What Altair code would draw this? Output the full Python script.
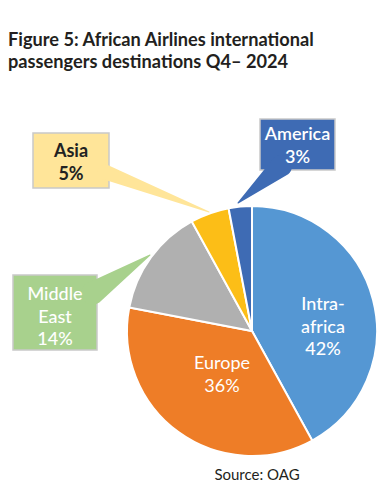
import altair as alt
import pandas as pd

# ---- data ----
categories = ["Intra-africa", "Europe", "Middle East", "Asia", "America"]
shares = [42, 36, 14, 5, 3]
display_names = ["Intra-\nafrica", "Europe", "Middle\nEast", "Asia", "America"]
slice_colors = ["#5597D3", "#EE7D27", "#B0B0B0", "#FCBE17", "#3E6BB4"]

title_lines = ["Figure 5: African Airlines international", "passengers destinations Q4\u2013 2024"]
source_text = "Source: OAG"

# ---- layout (screen pixel coordinates) ----
W, H = 376, 477
OFF = 8
CX, CY, R = 252, 331, 125
xs = alt.Scale(domain=[OFF, OFF + W], range=[0, W], nice=False, zero=False)
ys = alt.Scale(domain=[OFF, OFF + H], range=[0, H], nice=False, zero=False)

pie_df = pd.DataFrame({"category": categories, "share": shares, "ord": list(range(len(categories)))})

pie = alt.Chart(pie_df).mark_arc(radius=R, stroke="white", strokeWidth=2).encode(
    theta=alt.Theta("share:Q", stack=True),
    order=alt.Order("ord:Q"),
    color=alt.Color("category:N", scale=alt.Scale(domain=categories, range=slice_colors), legend=None),
    x=alt.value(CX - OFF),
    y=alt.value(CY - OFF),
)

layers = [pie]

# callouts: box (x1,x2,y1,y2), pointer base (bx,by,width), tip (tx,ty), fill
callouts = {
    "America": dict(box=(260, 335, 119, 170), base=(281, 166, 22), tip=(238, 203), fill="#3E6BB4"),
    "Asia": dict(box=(33, 109, 133, 188), base=(105, 172, 15), tip=(209, 212), fill="#FFE599"),
    "Middle East": dict(box=(13, 97, 275, 350), base=(93, 293, 23), tip=(150, 255), fill="#A8D18D"),
}

for cat, c in callouts.items():
    x1, x2, y1, y2 = c["box"]
    box_df = pd.DataFrame({"x1": [x1], "x2": [x2], "y1": [y1], "y2": [y2]})
    layers.append(
        alt.Chart(box_df).mark_rect(color=c["fill"], stroke="#C9C9C9", strokeWidth=1.5).encode(
            x=alt.X("x1:Q", scale=xs, axis=None), x2="x2:Q",
            y=alt.Y("y1:Q", scale=ys, axis=None), y2="y2:Q",
        )
    )
    bx, by, bw = c["base"]
    tx, ty = c["tip"]
    ptr_df = pd.DataFrame({"x": [bx, tx], "y": [by, ty], "w": [bw, 0], "o": [0, 1]})
    layers.append(
        alt.Chart(ptr_df).mark_trail(color=c["fill"]).encode(
            x=alt.X("x:Q", scale=xs, axis=None),
            y=alt.Y("y:Q", scale=ys, axis=None),
            size=alt.Size("w:Q", scale=None, legend=None),
            order=alt.Order("o:Q"),
        )
    )

# labels: centre x, first baseline y, colour, weight
label_pos = {
    "Intra-africa": dict(x=323, y=310, tc="white", fw=500),
    "Europe": dict(x=222, y=369, tc="white", fw=400),
    "Middle East": dict(x=55, y=300, tc="white", fw=500),
    "Asia": dict(x=71, y=157, tc="#222222", fw=700),
    "America": dict(x=297.5, y=140, tc="white", fw=600),
}

for cat, name, share in zip(categories, display_names, shares):
    p = label_pos[cat]
    tdf = pd.DataFrame({"t": [f"{name}\n{share}%"]})
    layers.append(
        alt.Chart(tdf).mark_text(
            font="Lato", fontSize=18, fontWeight=p["fw"], color=p["tc"], align="center",
            baseline="alphabetic", lineBreak="\n", lineHeight=22.5,
        ).encode(text="t:N", x=alt.value(p["x"] - OFF), y=alt.value(p["y"] - OFF))
    )

# title and source
title_df = pd.DataFrame({"t": ["\n".join(title_lines)]})
layers.append(
    alt.Chart(title_df).mark_text(
        font="Lato", fontSize=18.2, fontWeight="bold", color="#231F20", align="left",
        baseline="alphabetic", lineBreak="\n", lineHeight=21.5,
    ).encode(text="t:N", x=alt.value(8 - OFF), y=alt.value(46 - OFF))
)
src_df = pd.DataFrame({"t": [source_text]})
layers.append(
    alt.Chart(src_df).mark_text(
        font="Lato", fontSize=15, color="#231F20", align="center", baseline="alphabetic",
    ).encode(text="t:N", x=alt.value(257 - OFF), y=alt.value(480 - OFF))
)

chart = alt.layer(*layers).properties(
    width=W, height=H, padding=0, autosize="none", background="white"
).configure_view(stroke=None)

chart.save("out.html", embed_options={"renderer": "svg", "actions": False})
